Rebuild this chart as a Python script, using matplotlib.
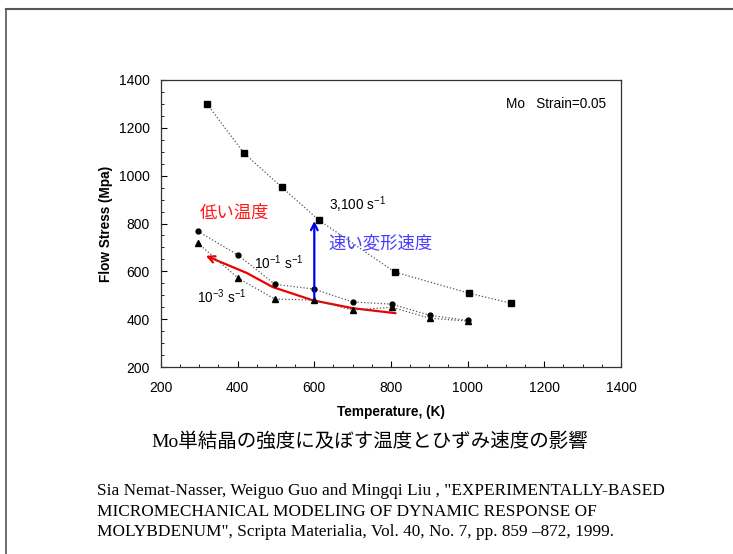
import numpy as np
import matplotlib.pyplot as plt
from matplotlib.path import Path
from matplotlib.patches import FancyArrowPatch
from matplotlib.lines import Line2D

# Flow stress of Mo at strain 0.05 for three strain rates
temp_fast = [320, 416, 515, 612, 810, 1003, 1112]
stress_fast = [1300, 1095, 952, 814, 597, 509, 467]

temp_mid = [296, 401, 497, 599, 700, 802, 901, 1000]
stress_mid = [768, 668, 546, 526, 472, 463, 416, 395]

temp_slow = [296, 401, 497, 599, 700, 802, 901, 1000]
stress_slow = [718, 572, 484, 480, 438, 450, 404, 392]

# hand-drawn red trend arrow (toward low temperature)
red_x = [812, 700, 596, 492, 424, 317]
red_y = [425, 446, 479, 534, 593, 665]

plt.rcParams['font.family'] = ['Liberation Sans', 'DejaVu Sans']
jp = ['Noto Sans CJK JP', 'DejaVu Sans']

fig = plt.figure(figsize=(7.33, 5.54), dpi=100)
ax = fig.add_axes([0.2196, 0.3375, 0.6276, 0.5181])

ax.plot(temp_fast, stress_fast, ls=':', color='#555555', lw=0.9,
        marker='s', ms=4, mfc='black', mec='black')
ax.plot(temp_mid, stress_mid, ls=':', color='#555555', lw=0.9,
        marker='o', ms=3.5, mfc='black', mec='black')
ax.plot(temp_slow, stress_slow, ls=':', color='#555555', lw=0.9,
        marker='^', ms=4, mfc='black', mec='black')

ax.set_xlim(200, 1400)
ax.set_ylim(200, 1400)
ax.set_xticks(range(200, 1401, 200))
ax.set_yticks(range(200, 1401, 200))
ax.set_xticks(range(200, 1401, 50), minor=True)
ax.set_yticks(range(200, 1401, 50), minor=True)
ax.tick_params(direction='in', labelsize=10, length=4, width=0.8)
ax.tick_params(axis='x', pad=10)
ax.tick_params(axis='y', pad=8)
ax.tick_params(which='minor', direction='in', length=2, width=0.6)
for s in ax.spines.values():
    s.set_linewidth(0.9)
    s.set_color('#333333')
ax.set_xlabel('Temperature, (K)', fontsize=9.8, fontweight='bold', labelpad=7)
ax.set_ylabel('Flow Stress (Mpa)', fontsize=9.8, fontweight='bold', labelpad=4)

ax.text(1362, 1300, 'Mo   Strain=0.05', fontsize=9.8, ha='right', va='center')
ax.text(638, 877, r'3,100 s$^{\mathregular{-1}}$', fontsize=9.8, va='center')
ax.text(442, 638, r'10$^{\mathregular{-1}}$ s$^{\mathregular{-1}}$', fontsize=9.8, va='center')
ax.text(294, 492, r'10$^{\mathregular{-3}}$ s$^{\mathregular{-1}}$', fontsize=9.8, va='center')

ax.text(302, 843, '低い温度', family=jp, fontsize=12.5, color='#ff1a1a', va='center')
ax.text(638, 718, '速い変形速度', family=jp, fontsize=12.5, color='#4a3cff', va='center')

# blue arrow: higher strain rate
ax.annotate('', xy=(600, 822), xytext=(600, 478),
            arrowprops=dict(arrowstyle='->', color='#0000ee', lw=1.6,
                            mutation_scale=12))

# red curved arrow
verts = list(zip(red_x, red_y))
codes = [Path.MOVETO] + [Path.LINETO] * (len(verts) - 1)
red_arrow = FancyArrowPatch(path=Path(verts, codes), arrowstyle='->',
                            color='#ee0000', lw=1.6, mutation_scale=12,
                            transform=ax.transData)
ax.add_patch(red_arrow)

fig.text(0.505, 0.203, 'Mo単結晶の強度に及ぼす温度とひずみ速度の影響',
         family=['Liberation Serif', 'Noto Sans CJK JP'], fontsize=14,
         ha='center', va='center')

cite = ('Sia Nemat-Nasser, Weiguo Guo and Mingqi Liu , "EXPERIMENTALLY-BASED\n'
        'MICROMECHANICAL MODELING OF DYNAMIC RESPONSE OF\n'
        'MOLYBDENUM", Scripta Materialia, Vol. 40, No. 7, pp. 859 \u2013872, 1999.')
fig.text(0.132, 0.076, cite, family='Liberation Serif', fontsize=12.4,
         ha='left', va='center', linespacing=1.38)

# slide frame
fig.add_artist(Line2D([0.008, 1.0], [0.984, 0.984], color='#555555', lw=1.5))
fig.add_artist(Line2D([0.008, 0.008], [0.0, 0.984], color='#555555', lw=1.2))

fig.savefig('out.png', dpi=100)
